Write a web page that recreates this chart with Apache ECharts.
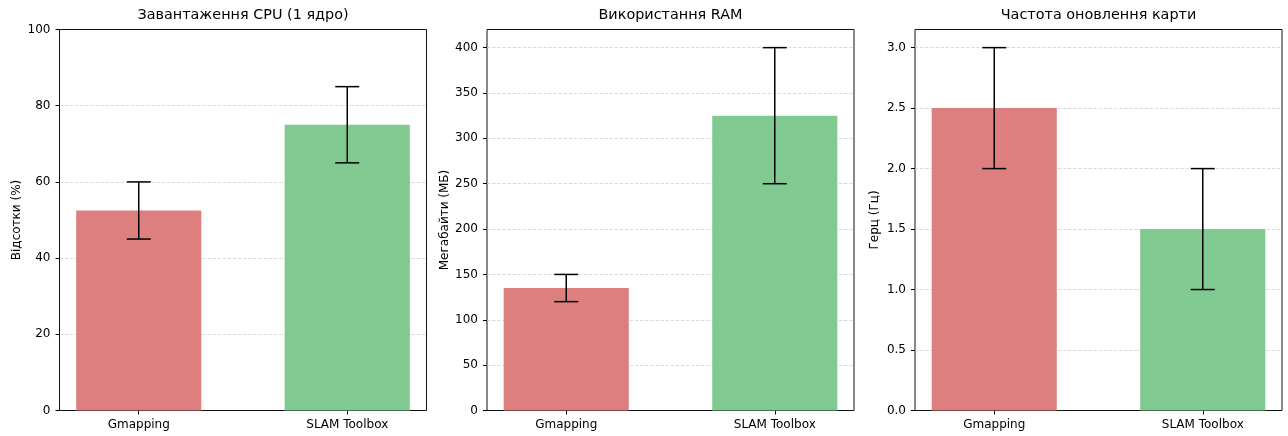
<!DOCTYPE html>
<html>
<head>
<meta charset="utf-8">
<script src="https://cdn.jsdelivr.net/npm/echarts@6/dist/echarts.min.js"></script>
<style>
html,body{margin:0;padding:0;background:#fff;}
#chart{width:1288px;height:436px;}
</style>
</head>
<body>
<div id="chart"></div>
<script>
// ---- data ----
const categories = ['Gmapping', 'SLAM Toolbox'];
const cpuMean = [52.5, 75];
const cpuErr = [7.5, 10];
const ramMean = [135, 325];
const ramErr = [15, 75];
const freqMean = [2.5, 1.5];
const freqErr = [0.5, 0.5];
const titles = ['Завантаження CPU (1 ядро)', 'Використання RAM', 'Частота оновлення карти'];
const yNames = ['Відсотки (%)', 'Мегабайти (МБ)', 'Герц (Гц)'];
const barColors = ['#dd7f7f', '#80ca91'];

const FONT = 'DejaVu Sans';
const panels = [
  {left: 59.5, mean: cpuMean, err: cpuErr, min: 0, max: 100, interval: 20, dec: 0, gap: 37, showMax: true},
  {left: 487, mean: ramMean, err: ramErr, min: 0, max: 420, interval: 50, dec: 0, gap: 36, showMax: false},
  {left: 915, mean: freqMean, err: freqErr, min: 0, max: 3.15, interval: 0.5, dec: 1, gap: 34, showMax: false}
];
const TOP = 29.5, W = 367, H = 381;

const grid = [], xAxis = [], yAxis = [], series = [], title = [];
panels.forEach((p, i) => {
  grid.push({left: p.left, top: TOP, width: W, height: H, show: true,
    borderColor: '#111', borderWidth: 1, backgroundColor: 'transparent', containLabel: false});
  title.push({text: titles[i], left: p.left + W / 2, top: 8, textAlign: 'center', padding: 0,
    textStyle: {fontFamily: FONT, fontSize: 14.4, fontWeight: 'normal', color: '#000'}});
  xAxis.push({type: 'value', gridIndex: i, min: -0.38, max: 1.38,
    axisLine: {show: false, onZero: false},
    axisTick: {show: true, length: 4, lineStyle: {color: '#000'}, customValues: [0, 1]},
    axisLabel: {customValues: [0, 1], margin: 8, fontFamily: FONT, fontSize: 12, color: '#000',
      formatter: v => categories[Math.round(v)]},
    splitLine: {show: false}});
  yAxis.push({type: 'value', gridIndex: i, min: p.min, max: p.max, interval: p.interval,
    name: yNames[i], nameLocation: 'middle', nameGap: p.gap,
    nameTextStyle: {fontFamily: FONT, fontSize: 12, color: '#000'},
    axisLine: {show: false, onZero: false},
    axisTick: {show: true, length: 4, lineStyle: {color: '#000'}},
    axisLabel: {showMaxLabel: p.showMax, margin: 9, fontFamily: FONT, fontSize: 12, color: '#000',
      formatter: v => v.toFixed(p.dec)},
    splitLine: {show: true, showMinLine: false, showMaxLine: false,
      lineStyle: {color: '#d3d3d3', width: 0.8, type: [3.5, 1.6]}}});
  const data = p.mean.map((m, k) => [k, m, p.err[k]]);
  series.push({type: 'custom', xAxisIndex: i, yAxisIndex: i, data: data, z: 2,
    renderItem: (params, api) => {
      const x = api.value(0), y = api.value(1);
      const a = api.coord([x - 0.3, y]);
      const b = api.coord([x + 0.3, 0]);
      return {type: 'rect', shape: {x: a[0], y: a[1], width: b[0] - a[0], height: b[1] - a[1]},
        style: {fill: barColors[params.dataIndex]}};
    }});
  series.push({type: 'custom', xAxisIndex: i, yAxisIndex: i, data: data, z: 3,
    renderItem: (params, api) => {
      const x = api.value(0), y = api.value(1), e = api.value(2);
      const hi = api.coord([x, y + e]);
      const lo = api.coord([x, y - e]);
      const st = {stroke: '#000', lineWidth: 1.5};
      return {type: 'group', children: [
        {type: 'line', shape: {x1: hi[0], y1: hi[1], x2: lo[0], y2: lo[1]}, style: st},
        {type: 'line', shape: {x1: hi[0] - 12, y1: hi[1], x2: hi[0] + 12, y2: hi[1]}, style: st},
        {type: 'line', shape: {x1: lo[0] - 12, y1: lo[1], x2: lo[0] + 12, y2: lo[1]}, style: st}
      ]};
    }});
});

const chart = echarts.init(document.getElementById('chart'), null, {renderer: 'canvas'});
chart.setOption({animation: false, backgroundColor: '#fff', title, grid, xAxis, yAxis, series});
</script>
</body>
</html>
